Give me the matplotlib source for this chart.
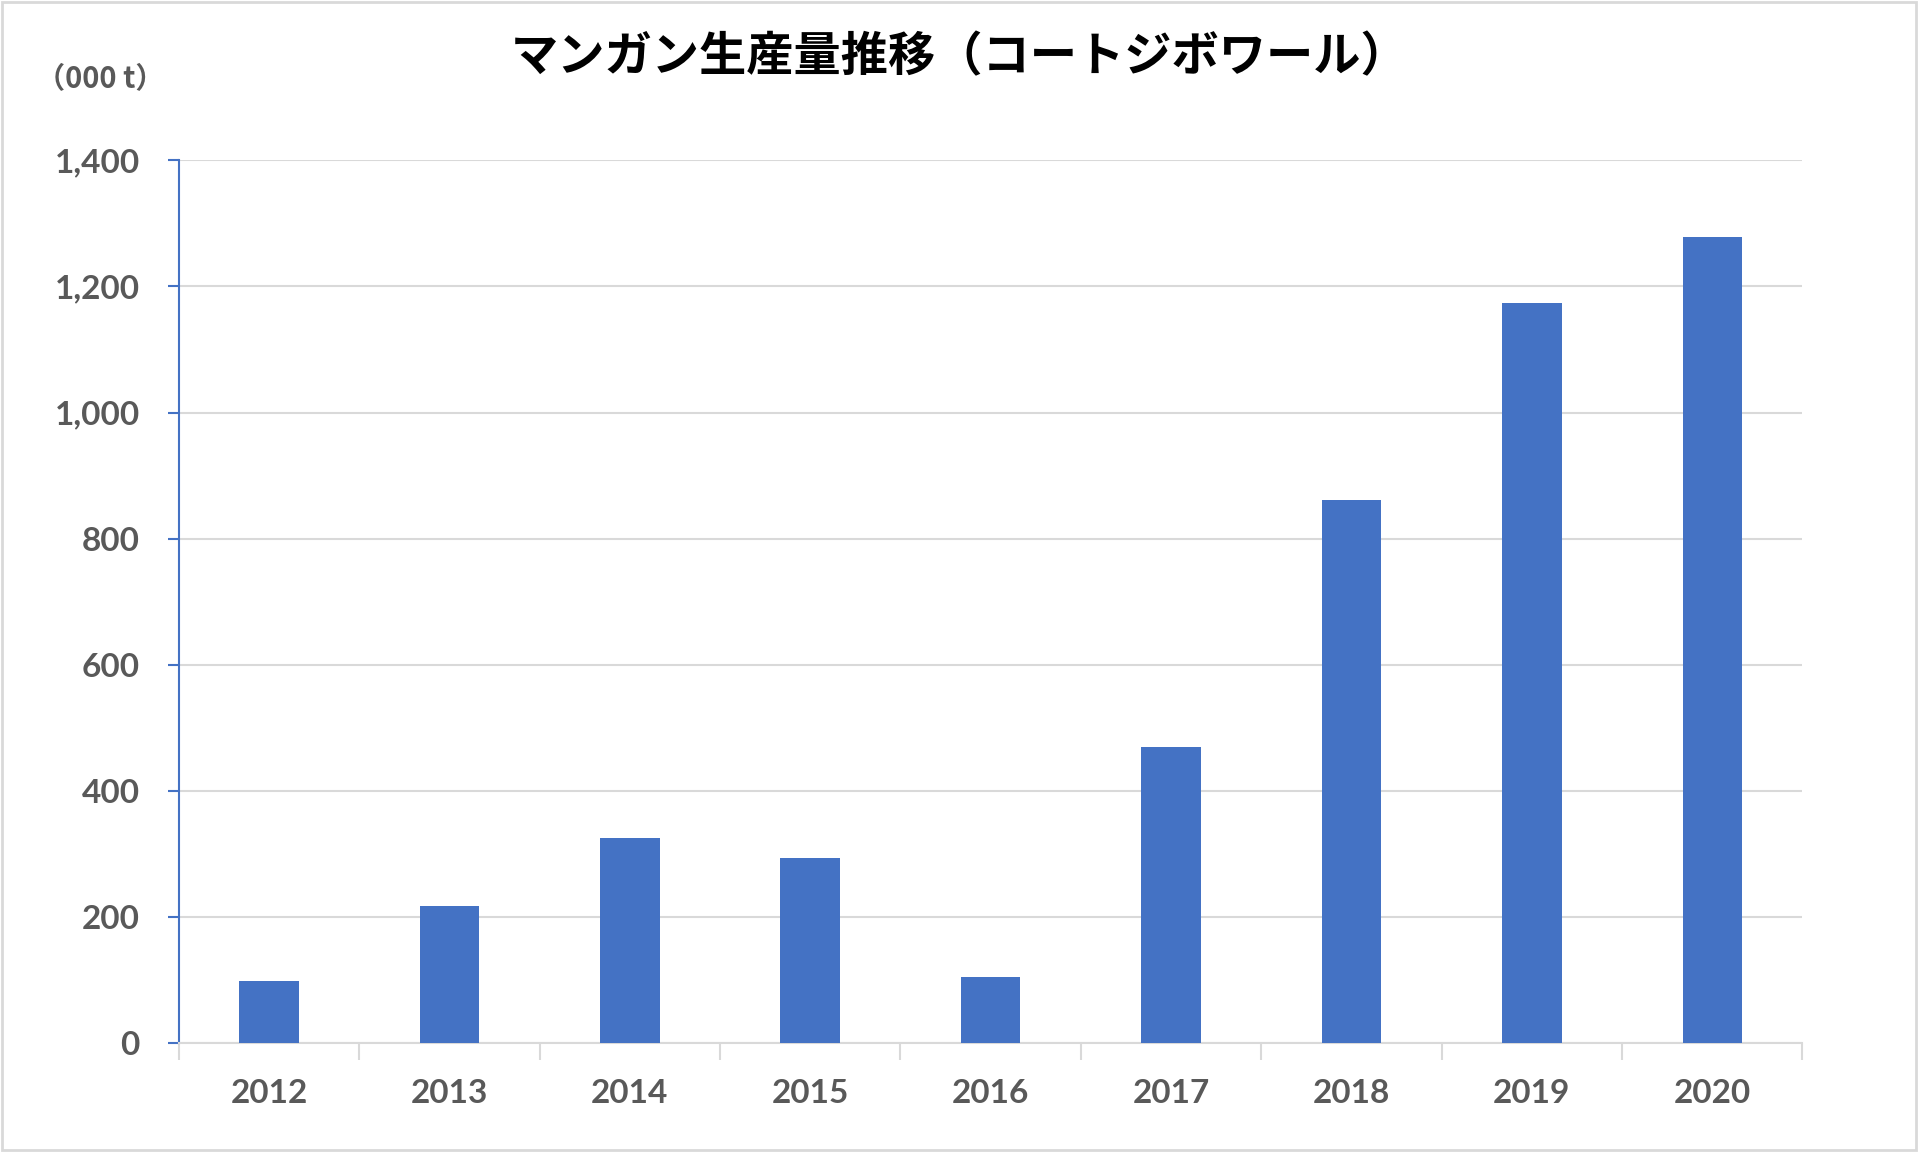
import matplotlib
matplotlib.use("Agg")
import matplotlib.pyplot as plt
import matplotlib.ticker as ticker
from matplotlib.patches import Rectangle

plt.rcParams['font.family'] = ['Lato', 'Noto Sans CJK JP', 'DejaVu Sans']

# data (000 t)
years = ['2012', '2013', '2014', '2015', '2016', '2017', '2018', '2019', '2020']
production = [98, 218, 325, 294, 104, 469, 862, 1174, 1278]

title = 'マンガン生産量推移（コートジボワール）'
unit_label = '（000 t）'

bar_color = '#4472C4'
grid_color = '#D9D9D9'
text_color = '#595959'

fig = plt.figure(figsize=(19.2, 11.52), dpi=100)
ax = fig.add_axes([0.0931, 0.0946, 0.8457, 0.7662])

x = range(len(years))
ax.bar(x, production, width=0.33, color=bar_color, zorder=3)

ax.set_xlim(-0.5, len(years) - 0.5)
ax.set_ylim(0, 1400)
ax.yaxis.set_major_locator(ticker.MultipleLocator(200))
ax.yaxis.set_major_formatter(ticker.FuncFormatter(lambda v, p: f'{int(v):,}'))
ax.grid(axis='y', color=grid_color, linewidth=1.5, zorder=0)

# category labels centred on bars, tick marks between categories
ax.set_xticks(list(x))
ax.set_xticklabels(years)
ax.xaxis.set_minor_locator(ticker.FixedLocator([i - 0.5 for i in range(len(years) + 1)]))
ax.tick_params(axis='x', which='major', length=0, pad=26)
ax.tick_params(axis='x', which='minor', length=12, width=1.5, color=grid_color)
ax.tick_params(axis='y', length=8, width=1.5, color=bar_color, pad=20)

for lab in ax.get_xticklabels() + ax.get_yticklabels():
    lab.set_fontsize(24)
    lab.set_fontweight('bold')
    lab.set_color(text_color)

for s in ['top', 'right']:
    ax.spines[s].set_visible(False)
ax.spines['left'].set_color(bar_color)
ax.spines['left'].set_linewidth(1.5)
ax.spines['bottom'].set_color(grid_color)
ax.spines['bottom'].set_linewidth(1.5)

fig.text(0.5, 0.95, title, ha='center', va='center', fontsize=34,
         fontweight='bold', color='black', family=['Noto Sans CJK JP', 'DejaVu Sans'])
fig.text(0.019, 0.931, unit_label, ha='left', va='center', fontsize=21,
         fontweight='bold', color=text_color, family=['Noto Sans CJK JP', 'DejaVu Sans'])

# light border around the chart area
fig.patches.append(Rectangle((0.001, 0.002), 0.997, 0.996, transform=fig.transFigure,
                             fill=False, edgecolor=grid_color, linewidth=2))

plt.savefig('out.png', dpi=100)
